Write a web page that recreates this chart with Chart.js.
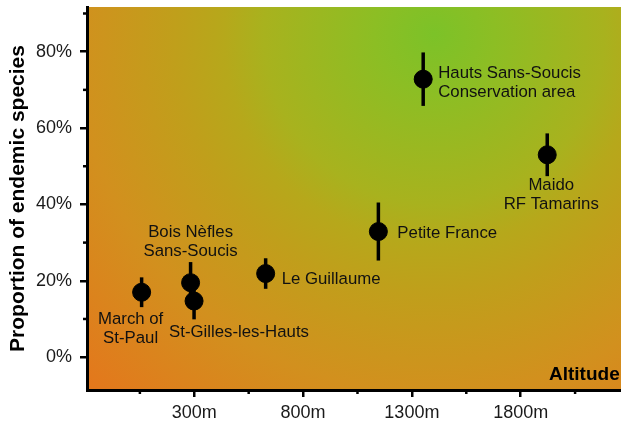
<!DOCTYPE html>
<html>
<head>
<meta charset="utf-8">
<script src="https://cdn.jsdelivr.net/npm/chart.js@4.4.0/dist/chart.umd.min.js"></script>
<style>
  html, body { margin: 0; padding: 0; background: #fff; }
  #wrap { width: 621px; height: 423px; }
</style>
</head>
<body>
<div id="wrap"><canvas id="chart" width="621" height="423"></canvas></div>
<script>
// data
var sites = [
	["March of", "St-Paul"],
	["Bois Nèfles", "Sans-Soucis"],
	["St-Gilles-les-Hauts"],
	["Le Guillaume"],
	["Petite France"],
	["Hauts Sans-Soucis", "Conservation area"],
	["Maido", "RF Tamarins"]
];
var altitude = [58, 283, 299, 628, 1146, 1352, 1922];
var endemic = [17.0, 19.5, 14.7, 21.9, 32.9, 72.8, 53.0];
var endemicErr = [3.9, 5.4, 4.8, 4.0, 7.6, 7.0, 5.6];
var xTicks = [300, 800, 1300, 1800];
var xMinorTicks = [50, 550, 1050, 1550, 2050];
var yTicks = [0, 20, 40, 60, 80];
var yMinorTicks = [10, 30, 50, 70, 90];

// where each site name sits next to its point
var labelPlace = [
	{dx: -11, dy: 27, align: 'center'},
	{dx: 0, dy: -50, align: 'center'},
	{dx: -25, dy: 31, align: 'left'},
	{dx: 16, dy: 6, align: 'left'},
	{dx: 19, dy: 2, align: 'left'},
	{dx: 15, dy: -6, align: 'left'},
	{dx: 4, dy: 31, align: 'center'}
];

var FONT = '"Liberation Sans", Arial, sans-serif';

var points = altitude.map(function(a, i) {
	return {x: a, y: endemic[i]};
});

function noPadding(scale) {
	scale.paddingTop = 0;
	scale.paddingBottom = 0;
	scale.paddingLeft = 0;
	scale.paddingRight = 0;
}

var backgroundPlugin = {
	id: 'gradientBg',
	beforeDraw: function(chart) {
		var ctx = chart.ctx, a = chart.chartArea;
		var cx = a.left + (a.right - a.left) * 0.65;
		var cy = a.top + (a.bottom - a.top) * 0.07;
		var g = ctx.createRadialGradient(cx, cy, 0, cx, cy, 500);
		g.addColorStop(0, '#7cc228');
		g.addColorStop(0.12, '#8cbe24');
		g.addColorStop(0.34, '#a8b21e');
		g.addColorStop(0.42, '#b6a81b');
		g.addColorStop(0.52, '#c09f1b');
		g.addColorStop(0.72, '#d2901e');
		g.addColorStop(0.98, '#e3781c');
		g.addColorStop(1, '#e3781c');
		ctx.save();
		ctx.fillStyle = g;
		ctx.fillRect(a.left, a.top, a.right - a.left, a.bottom - a.top);
		ctx.restore();
	}
};

var extrasPlugin = {
	id: 'extras',
	beforeDatasetsDraw: function(chart) {
		var ctx = chart.ctx;
		var xs = chart.scales.x, ys = chart.scales.y;
		ctx.save();
		ctx.strokeStyle = '#000';
		ctx.lineWidth = 3.5;
		for (var i = 0; i < altitude.length; i++) {
			var px = xs.getPixelForValue(altitude[i]);
			ctx.beginPath();
			ctx.moveTo(px, ys.getPixelForValue(endemic[i] + endemicErr[i]));
			ctx.lineTo(px, ys.getPixelForValue(endemic[i] - endemicErr[i]));
			ctx.stroke();
		}
		ctx.restore();
	},
	afterDraw: function(chart) {
		var ctx = chart.ctx, a = chart.chartArea;
		var xs = chart.scales.x, ys = chart.scales.y;
		ctx.save();
		// minor ticks
		ctx.strokeStyle = '#000';
		ctx.lineWidth = 2.5;
		xMinorTicks.forEach(function(v) {
			var p = xs.getPixelForValue(v);
			ctx.beginPath(); ctx.moveTo(p, a.bottom); ctx.lineTo(p, a.bottom + 4); ctx.stroke();
		});
		yMinorTicks.forEach(function(v) {
			var p = ys.getPixelForValue(v);
			ctx.beginPath(); ctx.moveTo(a.left, p); ctx.lineTo(a.left - 4, p); ctx.stroke();
		});
		// site names
		ctx.fillStyle = '#111';
		ctx.font = '16.8px ' + FONT;
		ctx.textBaseline = 'middle';
		for (var i = 0; i < sites.length; i++) {
			var px = xs.getPixelForValue(altitude[i]);
			var py = ys.getPixelForValue(endemic[i]);
			var pl = labelPlace[i];
			ctx.textAlign = pl.align;
			sites[i].forEach(function(line, k) {
				ctx.fillText(line, px + pl.dx, py + pl.dy + k * 19);
			});
		}
		// axis name inside plot
		ctx.fillStyle = '#000';
		ctx.font = 'bold 19px ' + FONT;
		ctx.textAlign = 'left';
		ctx.textBaseline = 'alphabetic';
		ctx.fillText('Altitude', 549, a.bottom - 10.5);
		ctx.restore();
	}
};

var chart = new Chart(document.getElementById('chart').getContext('2d'), {
	type: 'scatter',
	data: {
		datasets: [{
			data: points,
			backgroundColor: '#000',
			borderColor: '#000',
			pointRadius: 9,
			pointHoverRadius: 9
		}]
	},
	options: {
		responsive: false,
		animation: false,
		devicePixelRatio: 1,
		layout: {autoPadding: false, padding: {top: 7, right: 0, left: 0, bottom: 0}},
		plugins: {legend: {display: false}, tooltip: {enabled: false}},
		scales: {
			x: {
				type: 'linear',
				min: -193,
				max: 2261,
				afterBuildTicks: function(scale) {
					scale.ticks = xTicks.map(function(v) { return {value: v}; });
				},
				afterFit: function(scale) { scale.height = 33; noPadding(scale); },
				grid: {drawOnChartArea: false, color: '#000', lineWidth: 2.5, tickLength: 7},
				border: {display: true, color: '#000', width: 3},
				ticks: {
					color: '#1a1a1a',
					font: {family: FONT, size: 18},
					padding: 5,
					maxRotation: 0,
					callback: function(v) { return v + 'm'; }
				}
			},
			y: {
				type: 'linear',
				min: -8.6,
				max: 91.7,
				afterBuildTicks: function(scale) {
					scale.ticks = yTicks.map(function(v) { return {value: v}; });
				},
				afterFit: function(scale) { scale.width = 87; noPadding(scale); },
				grid: {drawOnChartArea: false, color: '#000', lineWidth: 2.5, tickLength: 7},
				border: {display: true, color: '#000', width: 3},
				ticks: {
					color: '#1a1a1a',
					font: {family: FONT, size: 18},
					padding: 8,
					callback: function(v) { return v + '%'; }
				},
				title: {
					display: true,
					text: 'Proportion of endemic species',
					color: '#000',
					font: {family: FONT, size: 21, weight: 'bold', lineHeight: 1},
					padding: {top: 8, bottom: 0}
				}
			}
		}
	},
	plugins: [backgroundPlugin, extrasPlugin]
});
</script>
</body>
</html>
